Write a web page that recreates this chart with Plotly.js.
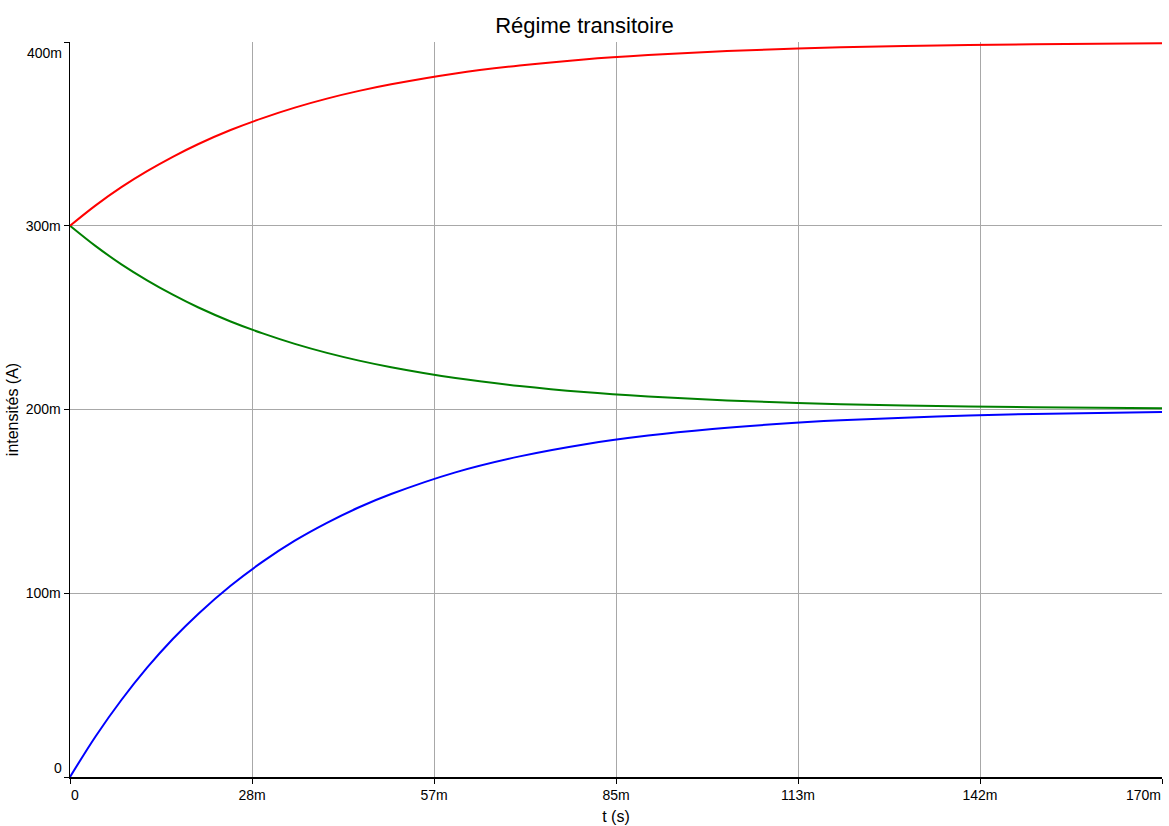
<!DOCTYPE html>
<html>
<head>
<meta charset="utf-8">
<script src="https://cdn.plot.ly/plotly-3.0.1.min.js"></script>
<style>html,body{margin:0;padding:0;background:#fff;}#chart{width:1169px;height:826px;}</style>
</head>
<body>
<div id="chart"></div>
<script>
// time (s)
const t = [0, 0.004, 0.008, 0.012, 0.016, 0.020, 0.025, 0.030, 0.035, 0.040, 0.045, 0.050, 0.060, 0.070, 0.080, 0.090, 0.100, 0.110, 0.120, 0.135, 0.150, 0.170];
// intensities (A)
const iBlue  = [0, 0.0222, 0.0419, 0.0595, 0.0751, 0.0889, 0.1041, 0.1172, 0.1286, 0.1383, 0.1468, 0.1540, 0.1658, 0.1745, 0.1810, 0.1858, 0.1894, 0.1921, 0.1941, 0.1962, 0.1976, 0.1987];
const iRed   = [0.3, 0.3111, 0.3210, 0.3297, 0.3375, 0.3445, 0.3521, 0.3586, 0.3643, 0.3692, 0.3734, 0.3770, 0.3829, 0.3872, 0.3905, 0.3929, 0.3947, 0.3961, 0.3971, 0.3981, 0.3988, 0.3993];
const iGreen = [0.3, 0.2889, 0.2790, 0.2703, 0.2625, 0.2555, 0.2479, 0.2414, 0.2357, 0.2308, 0.2266, 0.2230, 0.2171, 0.2128, 0.2095, 0.2071, 0.2053, 0.2039, 0.2029, 0.2019, 0.2012, 0.2007];

const xTickVals = [0, 0.170/6, 0.170*2/6, 0.170*3/6, 0.170*4/6, 0.170*5/6, 0.170];
const xTickText = ['0', '28m', '57m', '85m', '113m', '142m', '170m'];
const yTickVals = [0, 0.1, 0.2, 0.3, 0.4];
const yTickText = ['0', '100m', '200m', '300m', '400m'];

const mk = (y, c) => ({x: t, y: y, type: 'scatter', mode: 'lines',
  line: {color: c, width: 2, shape: 'spline'}, showlegend: false, hoverinfo: 'skip'});

const data = [mk(iBlue, '#0000ff'), mk(iGreen, '#008000'), mk(iRed, '#ff0000')];

const font = {family: 'Liberation Sans, Arial, sans-serif', color: '#000'};
const tickFont = Object.assign({}, font, {size: 14});

// edge tick labels are drawn as annotations so they can sit inside the plot edges
const lastX = xTickVals.length - 1, lastY = yTickVals.length - 1;
const annotations = [
  {xref: 'x', yref: 'y', x: xTickVals[0], y: 0, text: xTickText[0], showarrow: false,
   xanchor: 'left', yanchor: 'top', xshift: -1, yshift: -8, font: tickFont},
  {xref: 'x', yref: 'y', x: xTickVals[lastX], y: 0, text: xTickText[lastX], showarrow: false,
   xanchor: 'right', yanchor: 'top', xshift: 1, yshift: -8, font: tickFont},
  {xref: 'paper', yref: 'y', x: 0, y: yTickVals[0], text: yTickText[0], showarrow: false,
   xanchor: 'right', yanchor: 'bottom', xshift: -6, yshift: -1, font: tickFont},
  {xref: 'paper', yref: 'y', x: 0, y: yTickVals[lastY], text: yTickText[lastY], showarrow: false,
   xanchor: 'right', yanchor: 'top', xshift: -6, yshift: -1, font: tickFont}
];
const xInnerText = xTickText.map((s, i) => (i === 0 || i === lastX) ? '' : s);
const yInnerText = yTickText.map((s, i) => (i === 0 || i === lastY) ? '' : s);

const layout = {
  width: 1169, height: 826,
  margin: {l: 70, r: 7, t: 42, b: 49},
  paper_bgcolor: '#fff', plot_bgcolor: '#fff',
  font: Object.assign({size: 14}, font),
  title: {text: 'Régime transitoire', x: 0.5, xanchor: 'center', y: 0.969, yanchor: 'middle',
          font: Object.assign({}, font, {size: 22})},
  xaxis: {
    range: [0, 0.170], tickvals: xTickVals, ticktext: xInnerText,
    showgrid: true, gridcolor: '#a8a8a8', gridwidth: 1, zeroline: false,
    showline: true, linecolor: '#000', linewidth: 1.5,
    ticks: 'outside', ticklen: 5, tickcolor: '#000',
    tickfont: tickFont,
    title: {text: 't (s)', standoff: 8, font: Object.assign({}, font, {size: 16})}
  },
  yaxis: {
    range: [0, 0.4], tickvals: yTickVals, ticktext: yInnerText,
    showgrid: true, gridcolor: '#a8a8a8', gridwidth: 1, zeroline: false,
    showline: true, linecolor: '#000', linewidth: 1.5,
    ticks: 'outside', ticklen: 5, tickcolor: '#000',
    tickfont: tickFont,
    title: {text: 'intensités (A)', standoff: 3, font: Object.assign({}, font, {size: 16})}
  },
  annotations: annotations
};

Plotly.newPlot('chart', data, layout, {displayModeBar: false, staticPlot: true});
</script>
</body>
</html>
